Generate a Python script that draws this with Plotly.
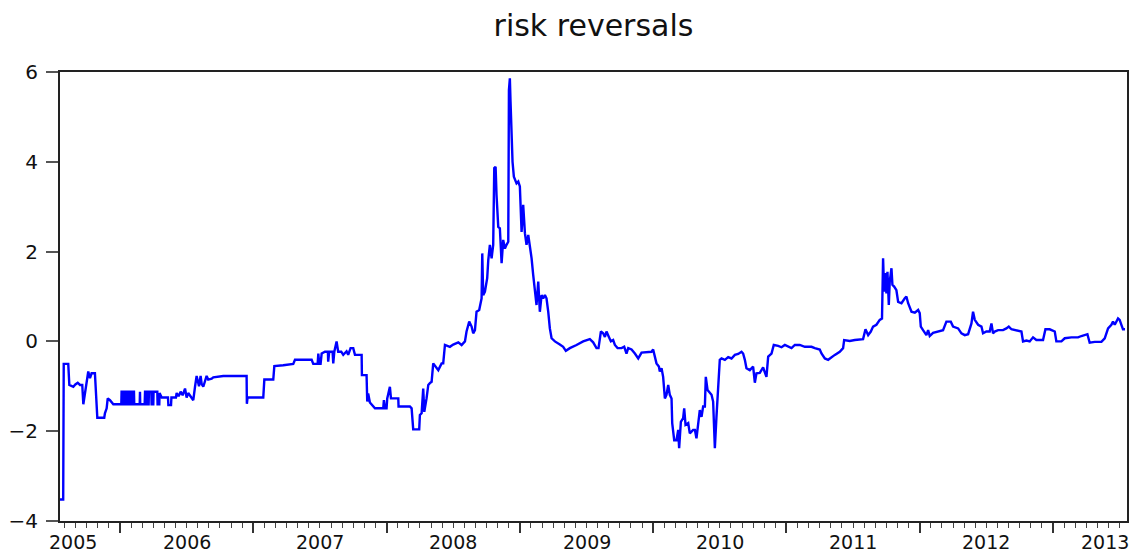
import plotly.graph_objects as go

# ---- data (decimal years, risk-reversal values) ----
t_years = [
    2005.550, 2005.574, 2005.578, 2005.612, 2005.620, 2005.650, 2005.665, 2005.683, 2005.700, 2005.717,
    2005.725, 2005.737, 2005.750, 2005.762, 2005.775, 2005.787, 2005.812, 2005.825, 2005.830, 2005.882,
    2005.887, 2005.900, 2005.908, 2005.925, 2005.950,
    2006.010, 2006.012, 2006.020, 2006.022, 2006.035, 2006.037, 2006.045, 2006.047, 2006.060, 2006.062,
    2006.075, 2006.077, 2006.090, 2006.092, 2006.105, 2006.107, 2006.148, 2006.150, 2006.152, 2006.185,
    2006.188, 2006.200, 2006.202, 2006.215, 2006.217, 2006.235, 2006.237, 2006.250, 2006.252, 2006.280,
    2006.282, 2006.295, 2006.297, 2006.313, 2006.360, 2006.363, 2006.383, 2006.386, 2006.420, 2006.425,
    2006.440, 2006.455, 2006.470, 2006.488, 2006.500, 2006.512, 2006.540, 2006.550, 2006.563, 2006.575,
    2006.593, 2006.605, 2006.613, 2006.625, 2006.650, 2006.662, 2006.688, 2006.700, 2006.775, 2006.950,
    2006.952, 2006.957,
    2007.075, 2007.083, 2007.150, 2007.158, 2007.225, 2007.300, 2007.313, 2007.438, 2007.450, 2007.483,
    2007.488, 2007.495, 2007.505, 2007.513, 2007.538, 2007.560, 2007.562, 2007.570, 2007.595, 2007.600,
    2007.608, 2007.625, 2007.637, 2007.660, 2007.675, 2007.688, 2007.700, 2007.712, 2007.730, 2007.750,
    2007.763, 2007.813, 2007.815, 2007.850, 2007.855, 2007.862, 2007.875, 2007.913, 2007.975, 2007.980,
    2007.988,
    2008.000, 2008.005, 2008.025, 2008.033, 2008.088, 2008.090, 2008.175, 2008.188, 2008.200, 2008.245,
    2008.250, 2008.263, 2008.275, 2008.283, 2008.300, 2008.313, 2008.325, 2008.338, 2008.350, 2008.370,
    2008.388, 2008.413, 2008.425, 2008.438, 2008.475, 2008.500, 2008.538, 2008.563, 2008.588, 2008.600,
    2008.620, 2008.638, 2008.650, 2008.663, 2008.675, 2008.695, 2008.713, 2008.718, 2008.725, 2008.738,
    2008.750, 2008.755, 2008.763, 2008.775, 2008.788, 2008.800, 2008.808, 2008.818, 2008.825, 2008.838,
    2008.850, 2008.863, 2008.875, 2008.888, 2008.900, 2008.913, 2008.918, 2008.925, 2008.930, 2008.938,
    2008.945, 2008.955, 2008.975, 2008.988,
    2009.000, 2009.013, 2009.025, 2009.038, 2009.050, 2009.063, 2009.075, 2009.088, 2009.100, 2009.113,
    2009.125, 2009.138, 2009.150, 2009.163, 2009.175, 2009.188, 2009.200, 2009.213, 2009.225, 2009.238,
    2009.263, 2009.300, 2009.325, 2009.345, 2009.375, 2009.425, 2009.475, 2009.525, 2009.550, 2009.575,
    2009.590, 2009.608, 2009.625, 2009.638, 2009.650, 2009.668, 2009.683, 2009.700, 2009.713, 2009.733,
    2009.763, 2009.783, 2009.800, 2009.813, 2009.838, 2009.863, 2009.888, 2009.913, 2009.963, 2009.988,
    2010.000, 2010.013, 2010.025, 2010.043, 2010.050, 2010.063, 2010.075, 2010.088, 2010.100, 2010.113,
    2010.125, 2010.138, 2010.143, 2010.158, 2010.175, 2010.188, 2010.195, 2010.208, 2010.225, 2010.233,
    2010.243, 2010.263, 2010.275, 2010.300, 2010.313, 2010.325, 2010.338, 2010.350, 2010.363, 2010.375,
    2010.388, 2010.395, 2010.408, 2010.425, 2010.438, 2010.450, 2010.463, 2010.475, 2010.488, 2010.500,
    2010.513, 2010.538, 2010.563, 2010.588, 2010.613, 2010.638, 2010.663, 2010.675, 2010.688, 2010.700,
    2010.725, 2010.750, 2010.763, 2010.775, 2010.800, 2010.825, 2010.850, 2010.863, 2010.888, 2010.905,
    2010.938, 2010.963, 2010.988,
    2011.013, 2011.038, 2011.063, 2011.100, 2011.138, 2011.188, 2011.213, 2011.250, 2011.263, 2011.288,
    2011.313, 2011.338, 2011.363, 2011.400, 2011.425, 2011.433, 2011.475, 2011.513, 2011.575, 2011.593,
    2011.613, 2011.633, 2011.650, 2011.675, 2011.700, 2011.717, 2011.725, 2011.733, 2011.743, 2011.750,
    2011.758, 2011.768, 2011.775, 2011.788, 2011.795, 2011.808, 2011.825, 2011.838, 2011.863, 2011.888,
    2011.900, 2011.913, 2011.938, 2011.963, 2011.988,
    2012.000, 2012.008, 2012.025, 2012.038, 2012.050, 2012.063, 2012.075, 2012.100, 2012.138, 2012.175,
    2012.200, 2012.233, 2012.250, 2012.288, 2012.313, 2012.338, 2012.363, 2012.375, 2012.388, 2012.400,
    2012.413, 2012.438, 2012.463, 2012.475, 2012.500, 2012.525, 2012.538, 2012.550, 2012.563, 2012.588,
    2012.625, 2012.650, 2012.668, 2012.688, 2012.725, 2012.763, 2012.775, 2012.800, 2012.825, 2012.850,
    2012.875, 2012.925, 2012.943, 2012.975,
    2013.013, 2013.025, 2013.063, 2013.088, 2013.138, 2013.188, 2013.213, 2013.258, 2013.275, 2013.313,
    2013.363, 2013.388, 2013.413, 2013.438, 2013.450, 2013.463, 2013.488, 2013.500, 2013.513, 2013.525,
    2013.540,
]

rr_values = [
    -3.52, -3.52, -0.50, -0.50, -0.97, -1.01, -0.96, -0.92, -0.97, -0.97,
    -1.40, -1.16, -1.01, -0.67, -0.82, -0.71, -0.71, -1.27, -1.70, -1.70,
    -1.60, -1.49, -1.27, -1.31, -1.40,
    -1.40, -1.12, -1.12, -1.40, -1.40, -1.12, -1.12, -1.40, -1.40, -1.12,
    -1.12, -1.40, -1.40, -1.12, -1.12, -1.40, -1.40, -1.12, -1.40, -1.40,
    -1.12, -1.12, -1.40, -1.40, -1.12, -1.12, -1.40, -1.40, -1.12, -1.12,
    -1.40, -1.40, -1.15, -1.25, -1.25, -1.42, -1.42, -1.25, -1.25, -1.15,
    -1.22, -1.12, -1.20, -1.05, -1.25, -1.15, -1.25, -1.31, -1.01, -0.77,
    -1.00, -0.77, -0.95, -1.01, -0.77, -0.85, -0.83, -0.80, -0.77, -0.77,
    -1.39, -1.25,
    -1.25, -0.85, -0.85, -0.55, -0.53, -0.50, -0.41, -0.41, -0.50, -0.50,
    -0.27, -0.50, -0.50, -0.27, -0.23, -0.23, -0.45, -0.23, -0.23, -0.49,
    -0.23, 0.00, -0.23, -0.23, -0.30, -0.25, -0.22, -0.30, -0.15, -0.15,
    -0.30, -0.30, -0.75, -0.75, -1.34, -1.16, -1.36, -1.49, -1.49, -1.31,
    -1.49,
    -1.49, -1.27, -1.01, -1.27, -1.27, -1.45, -1.45, -1.49, -1.96, -1.96,
    -1.64, -1.60, -1.05, -1.57, -1.27, -0.97, -0.93, -0.90, -0.49, -0.56,
    -0.64, -0.49, -0.49, -0.08, -0.12, -0.07, -0.02, -0.08, 0.00, 0.22,
    0.44, 0.33, 0.18, 0.25, 0.66, 0.70, 0.96, 1.96, 1.03, 1.11,
    1.33, 1.41, 1.81, 2.15, 1.85, 2.15, 3.86, 3.89, 3.26, 2.55,
    2.52, 1.74, 2.26, 2.07, 2.15, 2.22, 5.60, 5.86, 5.34, 4.45,
    4.00, 3.67, 3.52, 3.56,
    3.45, 2.44, 3.04, 2.41, 2.15, 2.37, 2.15, 1.85, 1.48, 1.11,
    0.81, 1.33, 0.66, 1.03, 0.96, 1.03, 0.96, 0.66, 0.29, 0.07,
    0.00, -0.07, -0.12, -0.21, -0.15, -0.08, 0.00, 0.05, -0.02, -0.15,
    -0.15, 0.22, 0.18, 0.10, 0.22, 0.10, 0.00, 0.03, -0.08, -0.15,
    -0.15, -0.12, -0.27, -0.15, -0.18, -0.27, -0.38, -0.25, -0.23, -0.23,
    -0.18, -0.34, -0.49, -0.56, -0.67, -0.60, -0.79, -1.27, -1.19, -0.97,
    -1.19, -1.27, -1.82, -2.20, -2.20, -1.97, -2.38, -1.79, -1.71, -1.49,
    -1.86, -1.82, -2.05, -1.97, -1.97, -2.16, -1.75, -1.53, -1.68, -1.45,
    -1.45, -0.79, -1.08, -1.16, -1.19, -1.34, -2.38, -1.68, -1.01, -0.41,
    -0.38, -0.41, -0.35, -0.38, -0.30, -0.28, -0.23, -0.27, -0.41, -0.60,
    -0.64, -0.56, -0.92, -0.71, -0.70, -0.58, -0.79, -0.34, -0.27, -0.08,
    -0.10, -0.13, -0.08,
    -0.12, -0.15, -0.08, -0.08, -0.12, -0.12, -0.15, -0.18, -0.27, -0.38,
    -0.41, -0.35, -0.30, -0.23, -0.15, 0.03, 0.01, 0.03, 0.05, 0.27,
    0.14, 0.22, 0.33, 0.37, 0.48, 0.51, 1.85, 1.11, 1.52, 1.07,
    1.55, 0.81, 1.33, 1.63, 1.26, 1.22, 1.14, 0.88, 0.85, 0.96,
    1.00, 0.85, 0.66, 0.64, 0.70,
    0.63, 0.33, 0.25, 0.19, 0.14, 0.25, 0.12, 0.19, 0.22, 0.25,
    0.44, 0.44, 0.33, 0.29, 0.18, 0.14, 0.16, 0.29, 0.40, 0.66,
    0.48, 0.37, 0.33, 0.18, 0.22, 0.22, 0.40, 0.18, 0.22, 0.25,
    0.25, 0.29, 0.33, 0.27, 0.25, 0.22, 0.00, 0.02, 0.00, 0.09,
    0.03, 0.03, 0.27, 0.27,
    0.22, 0.00, 0.00, 0.07, 0.09, 0.09, 0.12, 0.16, -0.03, -0.01,
    -0.01, 0.07, 0.29, 0.37, 0.44, 0.37, 0.51, 0.48, 0.37, 0.27,
    0.27,
]

year_labels = ["2005", "2006", "2007", "2008", "2009", "2010", "2011", "2012", "2013"]
year_label_pos = [2005.648, 2006.5, 2007.5, 2008.5, 2009.5, 2010.5, 2011.5, 2012.5, 2013.39]
y_tick_vals = [-4, -2, 0, 2, 4, 6]
title_text = "risk reversals"

FONT = "DejaVu Sans"

# The page body adds an 8px margin, so the figure is sized to fill the rest of the window.
FIG_W, FIG_H = 1133, 548

fig = go.Figure()
fig.add_trace(go.Scatter(
    x=t_years, y=rr_values, mode="lines",
    line=dict(color="#0000FF", width=2.4),
    showlegend=False, hoverinfo="skip",
))

for lab, pos in zip(year_labels, year_label_pos):
    fig.add_annotation(
        x=pos, y=0, xref="x", yref="paper", text=lab, showarrow=False,
        yanchor="top", xanchor="center", yshift=-9, borderpad=0,
        font=dict(family=FONT, size=19, color="#111111"),
    )

fig.update_layout(
    width=FIG_W, height=FIG_H,
    margin=dict(l=52, r=14, t=64, b=35, autoexpand=False),
    paper_bgcolor="white", plot_bgcolor="white",
    title=dict(
        text=title_text, x=0.5, xref="paper", xanchor="center",
        y=1 - 17 / FIG_H, yref="container", yanchor="middle",
        font=dict(family=FONT, size=30, color="#111111"),
    ),
    showlegend=False,
)

fig.update_xaxes(
    range=[2005.55, 2013.555], automargin=False,
    showgrid=False, zeroline=False,
    showline=True, linecolor="#222222", linewidth=2, mirror=True,
    tickmode="linear", tick0=2006, dtick=1,
    ticks="outside", ticklen=10, tickwidth=1.5, tickcolor="#333333",
    showticklabels=False,
    minor=dict(tickmode="linear", tick0=2006, dtick=1 / 12,
               ticks="outside", ticklen=5, tickwidth=1.2, tickcolor="#444444",
               showgrid=False),
)

fig.update_yaxes(
    range=[-4, 6], automargin=False,
    showgrid=False, zeroline=False,
    showline=True, linecolor="#222222", linewidth=2, mirror=True,
    tickmode="array", tickvals=y_tick_vals,
    ticks="outside", ticklen=12, tickwidth=1.5, tickcolor="#555555",
    ticklabelstandoff=4,
    tickfont=dict(family=FONT, size=20, color="#111111"),
)

fig.write_html("out.html")
